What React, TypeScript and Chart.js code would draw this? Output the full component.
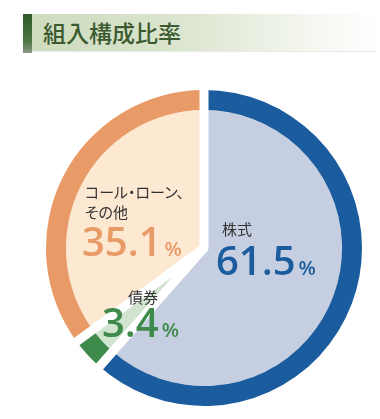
import React, { useEffect, useRef } from "react";
import { Chart, registerables } from "chart.js";

Chart.register(...registerables);

const title = "組入構成比率";
const categories = ["株式", "債券", "コール・ローン、その他"];
const shares = [61.5, 3.4, 35.1];
const ringColors = ["#1a5c9e", "#3d8a4a", "#e99b67"];
const fillColors = ["#c6cfe1", "#d1e4cf", "#fde8d2"];
const valueColors = ["#1a5c9e", "#3d8a4a", "#e99b67"];

const gapPlugin = {
  id: "sliceGaps",
  afterDatasetsDraw(chart: any) {
    const meta = chart.getDatasetMeta(0);
    const ctx = chart.ctx;
    ctx.save();
    ctx.strokeStyle = "#ffffff";
    ctx.lineWidth = 9;
    ctx.lineCap = "butt";
    meta.data.forEach((arc: any) => {
      const p = arc.getProps(["x", "y", "startAngle", "outerRadius"], true);
      const r = p.outerRadius + 6;
      ctx.beginPath();
      ctx.moveTo(p.x, p.y);
      ctx.lineTo(p.x + Math.cos(p.startAngle) * r, p.y + Math.sin(p.startAngle) * r);
      ctx.stroke();
    });
    ctx.beginPath();
    ctx.arc(meta.data[0].x, meta.data[0].y, 4.5, 0, Math.PI * 2);
    ctx.fillStyle = "#ffffff";
    ctx.fill();
    ctx.restore();
  },
};

const jp = '"Noto Sans CJK JP", "Noto Sans", sans-serif';
const num = '"Open Sans", "Noto Sans", sans-serif';

function Value({ left, top, value, color }: { left: number; top: number; value: number; color: string }) {
  return (
    <div
      style={{
        position: "absolute",
        left,
        top,
        lineHeight: 1,
        whiteSpace: "nowrap",
        color,
        fontFamily: num,
        fontWeight: 600,
      }}
    >
      <span style={{ fontSize: 40, letterSpacing: 0 }}>{value.toFixed(1)}</span>
      <span style={{ fontSize: 20, marginLeft: 3 }}>%</span>
    </div>
  );
}

function Label({ left, top, children }: { left: number; top: number; children: React.ReactNode }) {
  return (
    <div
      style={{
        position: "absolute",
        left,
        top,
        lineHeight: "20px",
        fontSize: 15,
        fontFamily: jp,
        fontFeatureSettings: '"palt"',
        color: "#333333",
        whiteSpace: "nowrap",
      }}
    >
      {children}
    </div>
  );
}

export default function App() {
  const ref = useRef<HTMLCanvasElement | null>(null);

  useEffect(() => {
    if (!ref.current) return;
    const chart = new Chart(ref.current, {
      type: "pie",
      data: {
        labels: categories,
        datasets: [
          {
            data: shares,
            backgroundColor: ringColors,
            borderWidth: 0,
            weight: 20,
          },
          {
            data: shares,
            backgroundColor: fillColors,
            borderWidth: 0,
            weight: 138,
          },
        ],
      },
      options: {
        responsive: false,
        animation: false,
        maintainAspectRatio: false,
        layout: { padding: 8 },
        plugins: {
          legend: { display: false },
          tooltip: { enabled: false },
        },
      },
      plugins: [gapPlugin],
    });
    return () => chart.destroy();
  }, []);

  return (
    <div style={{ position: "absolute", left: 0, top: 0, width: 380, height: 419, background: "#fff", overflow: "hidden" }}>
      <div
        style={{
          position: "absolute",
          left: 23,
          top: 14,
          width: 352,
          height: 37,
          background: "linear-gradient(to right, #cddbbd 0%, #dbe5cf 45%, #f3f6ee 80%, #ffffff 100%)",
          boxShadow: "0 1px 1px rgba(0,0,0,0.08)",
        }}
      />
      <div
        style={{
          position: "absolute",
          left: 23,
          top: 14,
          width: 9,
          height: 39,
          background: "linear-gradient(to bottom, #2f5a29, #4d7443 70%, #8a9a86)",
        }}
      />
      <div
        style={{
          position: "absolute",
          left: 43,
          top: 17,
          fontSize: 23,
          lineHeight: "30px",
          fontFamily: jp,
          fontWeight: 500,
          color: "#3b5a30",
          whiteSpace: "nowrap",
        }}
      >
        {title}
      </div>
      <canvas
        ref={ref}
        width={332}
        height={332}
        style={{ position: "absolute", left: 38, top: 82, width: 332, height: 332 }}
      />
      <Label left={85} top={182}>
        コール・ローン、
        <br />
        その他
      </Label>
      <Value left={82} top={221} value={shares[2]} color={valueColors[2]} />
      <Label left={222} top={219}>{categories[0]}</Label>
      <Value left={216} top={240} value={shares[0]} color={valueColors[0]} />
      <Label left={128} top={287}>{categories[1]}</Label>
      <Value left={102} top={302} value={shares[1]} color={valueColors[1]} />
    </div>
  );
}
